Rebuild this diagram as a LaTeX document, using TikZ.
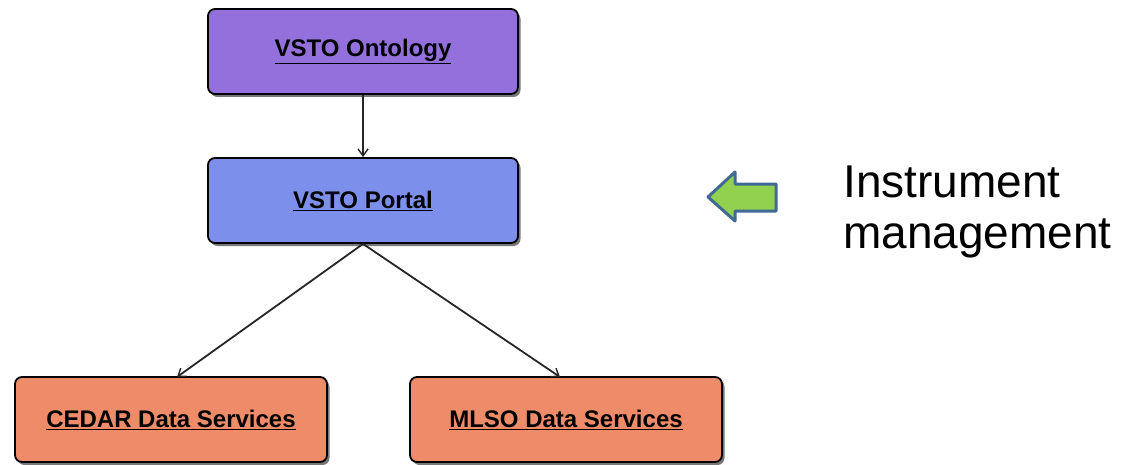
\documentclass[tikz,border=0pt]{standalone}
\usepackage{fontspec}
\setmainfont{Liberation Sans}
\usetikzlibrary{shadows,arrows.meta}
\definecolor{ontofill}{RGB}{147,112,219}
\definecolor{portalfill}{RGB}{123,143,235}
\definecolor{servfill}{RGB}{238,140,105}
\definecolor{greenfill}{RGB}{146,208,80}
\definecolor{blueedge}{RGB}{65,105,150}
\definecolor{shadowgray}{RGB}{120,120,120}
\tikzset{
  box/.style={draw=black, line width=1.8pt, rounded corners=7pt,
    minimum width=310pt, minimum height=85pt, inner sep=0pt,
    font=\fontsize{24}{26}\selectfont\bfseries,
    drop shadow={shadow xshift=2.5pt, shadow yshift=-3pt, fill=shadowgray, opacity=1}},
  conn/.style={draw=black!85, line width=1.8pt, -{Straight Barb[length=7pt,width=10pt,line width=1.4pt]}},
  bigarrow/.style={draw=blueedge, line width=3pt, line join=round, fill=greenfill},
  label/.style={font=\fontsize{46}{51}\selectfont, align=left, inner sep=0pt}
}
\begin{document}
\begin{tikzpicture}[x=1pt,y=-1pt]
\useasboundingbox (0,0) rectangle (1131,465);
\node[box, fill=ontofill, minimum width=310pt] (onto) at (363,51.5) {\underline{VSTO Ontology}};
\node[box, fill=portalfill] (portal) at (363,200.5) {\underline{VSTO Portal}};
\node[box, fill=servfill, minimum width=312pt] (cedar) at (171,419.5) {\underline{CEDAR Data Services}};
\node[box, fill=servfill, minimum width=312pt] (mlso) at (566,419.5) {\underline{MLSO Data Services}};
\draw[conn] (onto.south) -- (portal.north);
\coordinate (cedartop) at (177,377);
\coordinate (mlsotop) at (560,377);
\draw[conn] (portal.south) -- (cedartop);
\draw[conn] (portal.south) -- (mlsotop);
\draw[bigarrow] (708,197) -- (735,172) -- (735,184) -- (776,184) -- (776,211) -- (735,211) -- (735,221) -- cycle;
\node[label, anchor=base west] (instr) at (843,248) {Instrument\\management};
\end{tikzpicture}
\end{document}
